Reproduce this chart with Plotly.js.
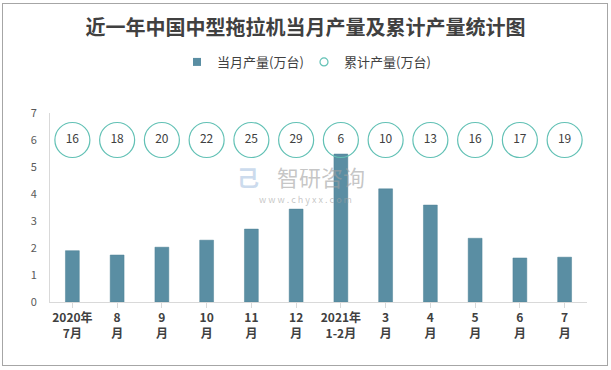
<!DOCTYPE html>
<html><head><meta charset="utf-8">
<script src="https://cdn.plot.ly/plotly-3.0.1.min.js"></script>
<style>html,body{margin:0;padding:0;background:#fff;}#wrap{position:relative;width:611px;height:370px;}#frame{position:absolute;left:2px;top:3px;width:604px;height:361px;border:1px solid #a6a6a6;pointer-events:none;}</style>
</head><body><div id="wrap"><div id="chart" style="width:611px;height:370px;"></div><div id="frame"></div></div>
<script>
var categories = ["2020年<br>7月","8<br>月","9<br>月","10<br>月","11<br>月","12<br>月","2021年<br>1-2月","3<br>月","4<br>月","5<br>月","6<br>月","7<br>月"];
var monthly = [1.90, 1.74, 2.03, 2.29, 2.70, 3.44, 5.48, 4.19, 3.59, 2.36, 1.63, 1.66];
var cumulative = [16, 18, 20, 22, 25, 29, 6, 10, 13, 16, 17, 19];
var seriesNames = ['当月产量(万台)', '累计产量(万台)'];
var circleLevel = 6;
var circleY = cumulative.map(function(){return circleLevel;});
var idx = categories.map(function(_, i){return i;});

var font = "'Noto Sans CJK SC', 'Microsoft YaHei', sans-serif";
var barColor = '#5a8ea3';
var ringColor = '#62c1b5';
var traces = [
  {type:'bar', x:idx, y:monthly, name:seriesNames[0], width:0.31, showlegend:false,
   marker:{color:barColor, line:{color:'#4f8297', width:0.5}}},
  {type:'scatter', mode:'markers+text', x:idx, y:circleY, name:seriesNames[1], showlegend:false,
   text:cumulative.map(String), textposition:'middle center',
   textfont:{family:font, size:12, color:'#404040'},
   marker:{symbol:'circle', size:35, color:'rgba(255,255,255,0)', line:{color:ringColor, width:1.2}}},
  {type:'scatter', mode:'markers', x:[null], y:[null], name:seriesNames[0],
   marker:{symbol:'square', size:8, color:barColor}},
  {type:'scatter', mode:'markers', x:[null], y:[null], name:seriesNames[1],
   marker:{symbol:'circle', size:8, color:'#fff', line:{color:ringColor, width:1.2}}}
];
var layout = {
  width:611, height:370,
  margin:{l:50, r:24, t:113, b:68},
  paper_bgcolor:'#fff', plot_bgcolor:'#fff',
  title:{text:'近一年中国中型拖拉机当月产量及累计产量统计图', x:0.5, xanchor:'center', y:0.925, yanchor:'middle',
         font:{family:font, size:20, color:'#404040', weight:'bold'}},
  showlegend:true,
  legend:{orientation:'h', x:0.473, xanchor:'center', y:1.27, yanchor:'middle',
          font:{family:font, size:13, color:'#404040'}, itemwidth:30, tracegroupgap:0,
          entrywidth:82, entrywidthmode:'pixels'},
  xaxis:{tickmode:'array', tickvals:idx, ticktext:categories, range:[-0.5, 11.5],
         showline:true, linecolor:'#d9d9d9', linewidth:1, ticks:'outside', tickson:'boundaries',
         ticklen:5, tickcolor:'#d9d9d9', showgrid:false, zeroline:false,
         tickfont:{family:font, size:12, color:'#404040', weight:'bold'}},
  yaxis:{range:[0,7], dtick:1, showline:true, linecolor:'#d9d9d9', linewidth:1, showgrid:false,
         zeroline:false, ticks:'', ticklabelstandoff:10,
         tickfont:{family:font, size:11, color:'#595959'}},
  annotations:[
    {xref:'paper', yref:'paper', x:0.505, y:0.665, xanchor:'center', yanchor:'middle', text:'智研咨询', showarrow:false,
     font:{family:font, size:22, color:'rgba(160,160,160,0.6)'}},
    {xref:'paper', yref:'paper', x:0.476, y:0.54, xanchor:'center', yanchor:'middle', text:'w w w . c h y x x . c o m', showarrow:false,
     font:{family:font, size:9, color:'rgba(160,160,160,0.6)'}},
    {xref:'paper', yref:'paper', x:0.369, y:0.665, xanchor:'center', yanchor:'middle', text:'<b>己</b>', showarrow:false,
     font:{family:font, size:22, color:'rgba(170,195,225,0.6)'}}
  ]
};
Plotly.newPlot('chart', traces, layout, {displayModeBar:false, staticPlot:true});
</script></body></html>
